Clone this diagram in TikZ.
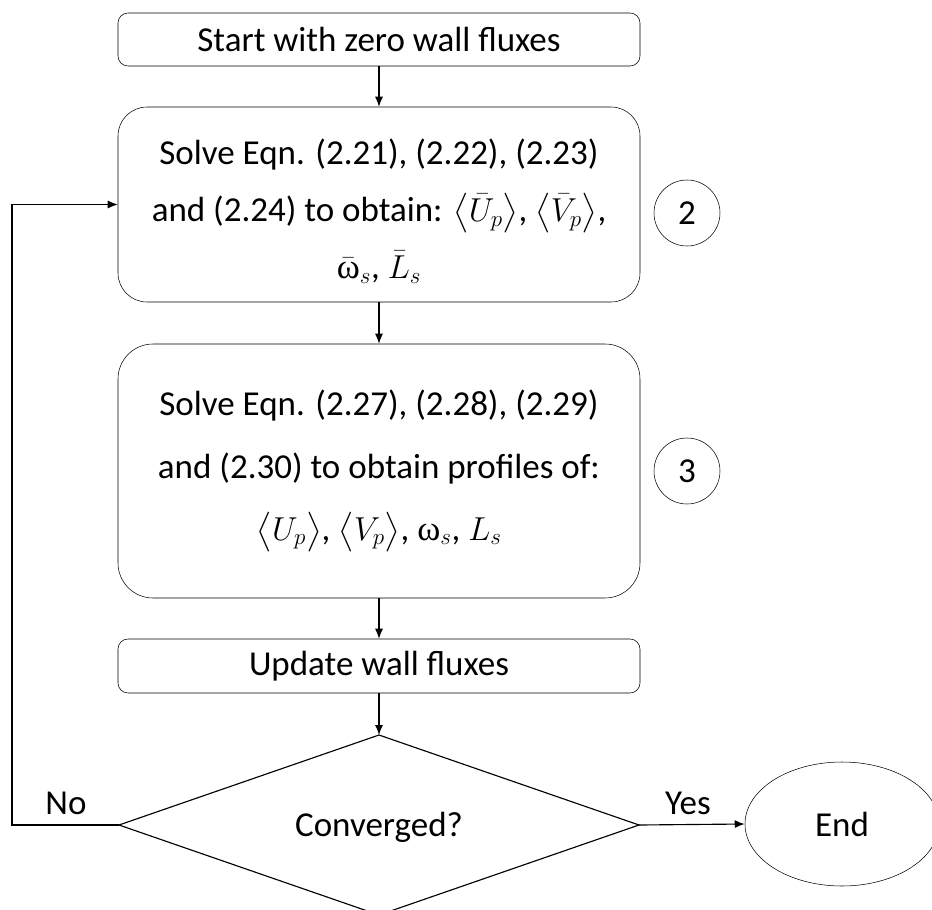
\documentclass[tikz,border=0pt]{standalone}
\usepackage{amsmath}
\usepackage{fontspec}
\setmainfont{Carlito}
\newfontfamily\omegafont{Liberation Serif}
\usetikzlibrary{arrows.meta,shapes.geometric}
\newcommand{\upom}{\mbox{\omegafont ω}}
\begin{document}
\begin{tikzpicture}[x=0.75pt,y=-0.75pt,
  every node/.style={font=\fontsize{26.25}{31}\selectfont},
  flowbox/.style={draw, rounded corners=7.5pt, minimum width=391.5pt, inner sep=0pt, align=center},
  bigbox/.style={draw, minimum width=391.5pt, inner sep=0pt, align=center},
  tag/.style={draw, circle, minimum size=49.5pt, inner sep=0pt},
  link/.style={-{Latex[length=7.5pt,width=6pt]}, line width=0.85pt},
  edge/.style={line width=0.85pt}]
\useasboundingbox (0,0) rectangle (932,910);
\clip (0,0) rectangle (932,910);

% process boxes
\node[flowbox, minimum height=39.75pt] (start) at (379,39.5) {Start with zero wall fluxes};
\node[bigbox, rounded corners=21.75pt, minimum height=146.25pt] (solvemean) at (379,204.5) {};
\node[align=center, inner sep=0pt, font=\fontsize{26.25}{42.75}\selectfont] (solvemeantext) at (379,211)
  {Solve Eqn. (2.21), (2.22), (2.23)\\
   and (2.24) to obtain: $\bigl\langle\bar{U}_p\bigr\rangle$, $\bigl\langle\bar{V}_p\bigr\rangle$,\\
   $\bar{\upom}_s$, $\bar{L}_s$};
\node[bigbox, rounded corners=26.25pt, minimum height=190.5pt,
      font=\fontsize{26.25}{46.5}\selectfont] (solveprof) at (379,471)
  {Solve Eqn. (2.27), (2.28), (2.29)\\
   and (2.30) to obtain profiles of:\\
   $\bigl\langle U_p\bigr\rangle$, $\bigl\langle V_p\bigr\rangle$, $\upom_s$, $L_s$};
\node[flowbox, minimum height=40.5pt] (update) at (379,666) {Update wall fluxes};

% decision diamond
\coordinate (dtop) at (379,735);
\coordinate (dright) at (639,825);
\coordinate (dbottom) at (379,915);
\coordinate (dleft) at (119,825);
\draw[edge] (dtop) -- (dright) -- (dbottom) -- (dleft) -- cycle;
\node (conv) at (379,827) {Converged?};

\node[draw, ellipse, minimum width=145.5pt, minimum height=93pt, inner sep=0pt] (finish) at (842,824) {End};

% step markers
\node[tag] (tagtwo) at (687,213) {2};
\node[tag] (tagthree) at (687,471) {3};

% decision labels
\node (nolabel) at (66,803) {No};
\node (yeslabel) at (688,803) {Yes};

% connectors
\draw[link] (start) -- (solvemean);
\draw[link] (solvemean) -- (solveprof);
\draw[link] (solveprof) -- (update);
\draw[link] (update) -- (dtop);
\draw[link] (dright) -- (finish.west);
\coordinate (loopcorner) at (12,825);
\draw[link] (dleft) -- (loopcorner) |- (solvemean.west);
\end{tikzpicture}
\end{document}
